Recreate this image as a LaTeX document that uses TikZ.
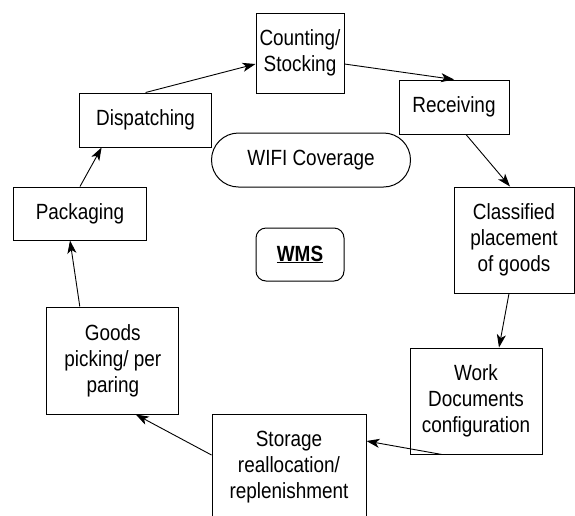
\documentclass[tikz,border=0pt]{standalone}
\usepackage{fontspec}
\setmainfont{Liberation Sans}[FakeStretch=0.86]
\usetikzlibrary{arrows.meta}

\begin{document}
\begin{tikzpicture}[x=1pt,y=-1pt,
  box/.style={draw,line width=1pt,inner sep=0pt,align=center,font=\fontsize{22}{26}\selectfont},
  flow/.style={line width=0.9pt,-{Stealth[length=13pt,width=9pt,inset=3.5pt]}}]
\useasboundingbox (0,0) rectangle (575,515);
\node[box,minimum width=88pt,minimum height=80pt] (count) at (300,53) {Counting/\\Stocking};
\node[box,minimum width=110pt,minimum height=54pt] (recv) at (454,107) {Receiving};
\node[box,minimum width=132pt,minimum height=54pt] (disp) at (145.6,120) {Dispatching};
\node[box,minimum width=199pt,minimum height=54pt,rounded corners=27pt] (wifi) at (311,160) {WIFI Coverage};
\node[box,minimum width=133pt,minimum height=53pt] (pack) at (80,213.5) {Packaging};
\node[box,minimum width=120pt,minimum height=106pt] (clas) at (514,240) {Classified\\placement\\of goods};
\node[box,minimum width=88pt,minimum height=53pt,rounded corners=10pt] (wms) at (300,254.5) {\underline{\textbf{WMS}}};
\node[box,minimum width=132pt,minimum height=107pt] (goods) at (112.8,360.5) {Goods\\picking/ per\\paring};
\node[box,minimum width=132pt,minimum height=106pt] (work) at (476,401) {Work\\Documents\\configuration};
\node[box,minimum width=154pt,minimum height=106pt] (stor) at (289,467) {Storage\\reallocation/\\replenishment};
\draw[flow] (disp.north) -- ([yshift=-11pt]count.west);
\draw[flow] ([yshift=-11pt]count.east) -- (recv.north);
\draw[flow] ([xshift=12pt]recv.south) -- ([xshift=-4pt]clas.north);
\draw[flow] ([xshift=-5pt]clas.south) -- ([xshift=23pt]work.north);
\draw[flow] ([xshift=-34pt]work.south) -- ([yshift=26pt]stor.east);
\draw[flow] ([yshift=12pt]stor.west) -- ([xshift=23pt]goods.south);
\draw[flow] ([xshift=-33pt]goods.north) -- ([xshift=-10pt]pack.south);
\draw[flow] (pack.north) -- ([xshift=-44pt]disp.south);
\end{tikzpicture}
\end{document}
